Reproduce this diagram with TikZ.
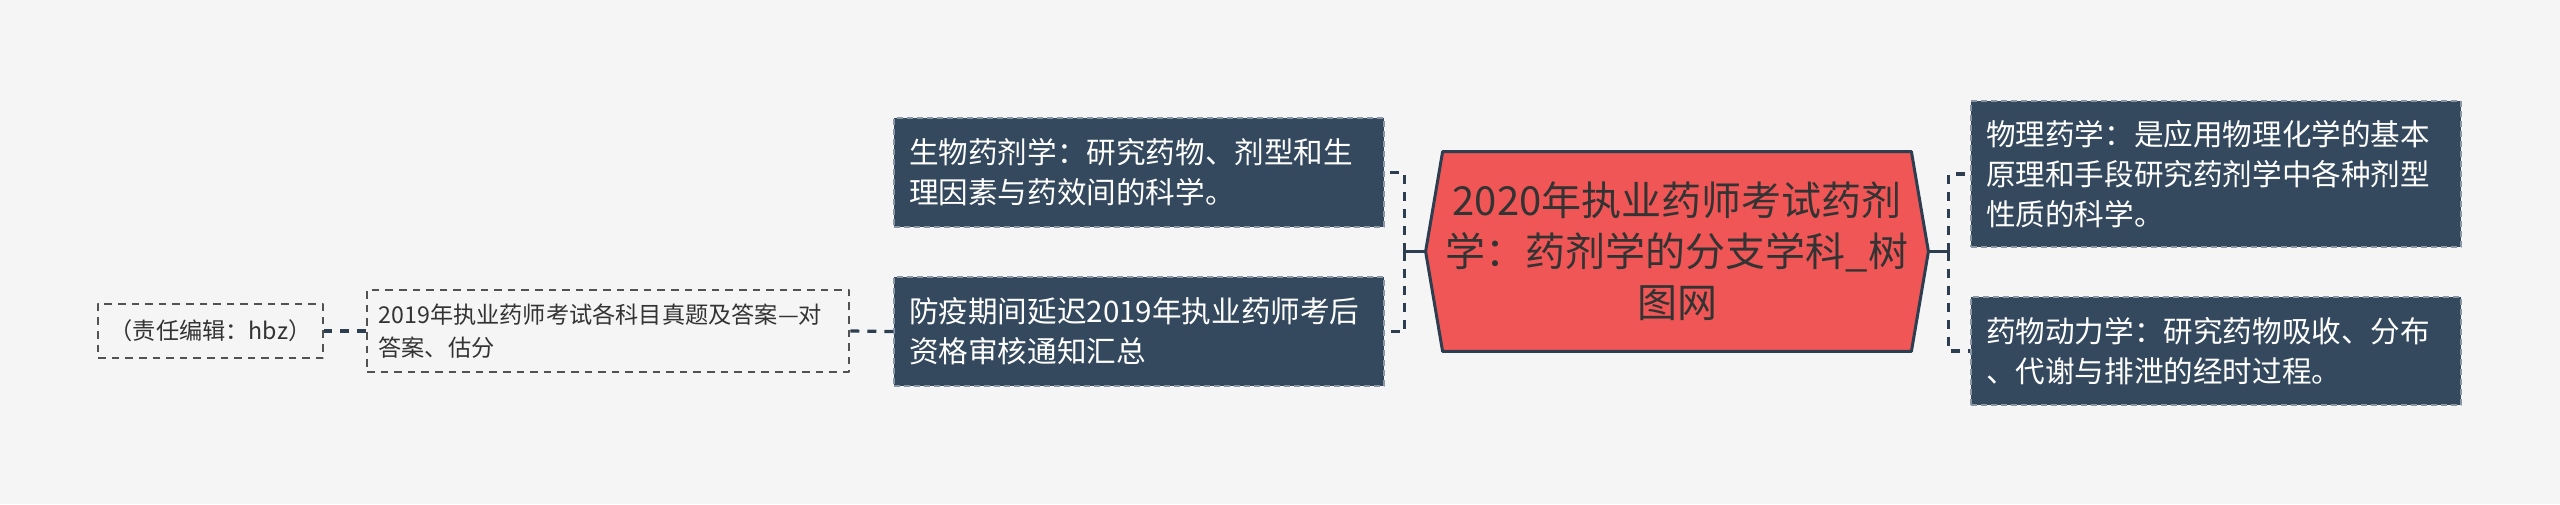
\documentclass[tikz,border=0pt]{standalone}
\usepackage{fontspec}
\setmainfont{Noto Sans CJK SC}
\usetikzlibrary{calc}
\definecolor{bgcol}{HTML}{F5F5F5}
\definecolor{hexred}{HTML}{F05656}
\definecolor{navy}{HTML}{2C3E50}
\definecolor{slate}{HTML}{34495E}
\definecolor{edgegray}{HTML}{8A96A3}
\definecolor{txt}{HTML}{333333}
\begin{document}
\begin{tikzpicture}[x=.5pt, y=-.5pt, line join=round,
    topic/.style={fill=slate, draw=edgegray, dash pattern=on 3pt off 2pt, line width=.6pt,
        text=white, align=left, text width=230pt, inner xsep=7.5pt, inner ysep=0pt,
        font=\fontsize{14.8}{20}\selectfont},
    note/.style={draw=txt!85, dash pattern=on 3.8pt off 3pt, line width=.9pt,
        text=txt, align=left, inner xsep=5.75pt, inner ysep=0pt,
        font=\fontsize{11.6}{16.5}\selectfont},
    link/.style={draw=navy, line width=1.6pt, dash pattern=on 4.5pt off 4pt},
    stub/.style={draw=navy, line width=1.8pt}]
    \def\W{2560} \def\H{504} % Khung
    \def\tip{17}
    \fill[bgcol] (0,0) rectangle (\W,\H);
    \useasboundingbox (0,0) rectangle (\W,\H);
    % Chu de trung tam
    \node[minimum width=251pt, minimum height=99.5pt] (title) at (1677,251.5) {};
    \draw[fill=hexred, draw=navy, line width=1.5pt] (title.west) -- ($(title.north west)+(\tip,0)$)
        -- ($(title.north east)+(-\tip,0)$) -- (title.east) -- ($(title.south east)+(-\tip,0)$)
        -- ($(title.south west)+(\tip,0)$) -- cycle;
    \node[text=txt, align=center, font=\fontsize{20}{25.5}\selectfont] at (title)
        {2020年执业药师考试药剂\\学：药剂学的分支学科\_树\\图网};
    % Nhanh phai
    \node[topic, minimum height=73pt] (phys) at (2216,174)
        {物理药学：是应用物理化学的基本\\原理和手段研究药剂学中各种剂型\\性质的科学。};
    \node[topic, minimum height=54pt] (kin) at (2216,351)
        {药物动力学：研究药物吸收、分布\\、代谢与排泄的经时过程。};
    % Nhanh trai
    \node[topic, minimum height=54.5pt] (bio) at (1139,172.5)
        {生物药剂学：研究药物、剂型和生\\理因素与药效间的科学。};
    \node[topic, minimum height=54.5pt] (delay) at (1139,331.5)
        {防疫期间延迟2019年执业药师考后\\资格审核通知汇总};
    \node[note, text width=229.5pt, minimum height=41pt] (exam) at (608,331)
        {2019年执业药师考试各科目真题及答案—对\\答案、估分};
    \node[note, align=center, minimum width=111.5pt, minimum height=27pt] (editor) at (210.5,331)
        {（责任编辑：hbz）};
    % Duong noi
    \coordinate (jr) at ($(title.east)+(20,0)$);
    \coordinate (jl) at ($(title.west)+(-21,0)$);
    \draw[stub] (title.east) -- (jr);
    \draw[stub] (title.west) -- (jl);
    \draw[link] (jr) |- (phys.west);
    \draw[link] (jr) |- (kin.west);
    \draw[link] (jl) |- (bio.east);
    \draw[link] (jl) |- (delay.east);
    \draw[link] (delay.west) -- (exam.east);
    \draw[link] (exam.west) -- (editor.east);
\end{tikzpicture}
\end{document}
